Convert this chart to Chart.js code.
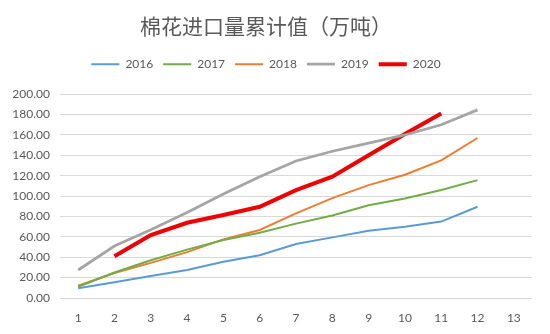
<!DOCTYPE html>
<html>
<head>
<meta charset="utf-8">
<script src="https://cdn.jsdelivr.net/npm/chart.js@4"></script>
<style>
  html, body { margin: 0; padding: 0; background: #fff; }
  #wrap { width: 550px; height: 334px; }
</style>
</head>
<body>
<div id="wrap"><canvas id="myChart" width="550" height="334"></canvas></div>
<script>
// Данные графика
const months = ["1", "2", "3", "4", "5", "6", "7", "8", "9", "10", "11", "12", "13"];
const y2016 = [9.5, 15.4, 21.5, 27.5, 35.6, 42, 53, 59.5, 66, 70, 75, 89.5];
const y2017 = [11, 25, 37, 47.5, 57, 64, 73, 81, 91, 97.7, 106, 115.7];
const y2018 = [12, 24.5, 34.5, 45, 57.5, 66.7, 83, 98, 110.8, 121, 135, 157];
const y2019 = [27.5, 51, 67, 84, 102, 119, 134.5, 144, 152, 160, 170, 184.6];
const y2020 = [null, 41, 61.8, 73.8, 81.4, 89.5, 105.9, 119, 140, 161, 181];

const textColor = "#595959";
const fontFamily = "Lato, 'Noto Sans', 'Noto Sans CJK SC', sans-serif";

function line(label, data, color, width) {
  return {
    label: label,
    data: data,
    borderColor: color,
    backgroundColor: color,
    borderWidth: width,
    pointRadius: 0,
    pointHoverRadius: 0,
    pointStyle: "line",
    tension: 0,
    fill: false,
  };
}

// Добавляем отступ под легендой
const legendGap = {
  id: "legendGap",
  beforeInit(chart) {
    const fit = chart.legend.fit;
    chart.legend.fit = function () {
      fit.bind(chart.legend)();
      this.height += 14;
    };
  },
};

const ctx = document.getElementById("myChart");
new Chart(ctx, {
  type: "line",
  data: {
    labels: months,
    datasets: [
      line("2016", y2016, "#5B9BD5", 2),
      line("2017", y2017, "#70AD47", 2),
      line("2018", y2018, "#ED7D31", 2),
      line("2019", y2019, "#A5A5A5", 2.75),
      line("2020", y2020, "#F00000", 4),
    ],
  },
  options: {
    responsive: false,
    animation: false,
    layout: { padding: { left: 0, right: 18, top: 0, bottom: 0 } },
    plugins: {
      title: {
        display: true,
        text: "棉花进口量累计值（万吨）",
        color: textColor,
        font: { family: "'Noto Sans CJK SC', sans-serif", size: 21, weight: "normal" },
        padding: { top: 13, bottom: 10 },
      },
      legend: {
        display: true,
        labels: {
          usePointStyle: true,
          pointStyleWidth: 28,
          color: textColor,
          font: { family: fontFamily, size: 12 },
          padding: 10,
        },
      },
      tooltip: { enabled: false },
    },
    scales: {
      x: {
        offset: true,
        grid: { display: false },
        border: { display: false },
        ticks: { color: textColor, font: { family: fontFamily, size: 12 }, padding: 5 },
        afterFit: (axis) => { axis.height = 36; },
      },
      y: {
        min: 0,
        max: 200,
        ticks: {
          stepSize: 20,
          color: textColor,
          font: { family: fontFamily, size: 12 },
          padding: 10,
          callback: (v) => v.toFixed(2),
        },
        grid: { color: "#D9D9D9", lineWidth: 1, drawTicks: false },
        border: { display: false },
        afterFit: (axis) => { axis.width = 60; },
      },
    },
  },
  plugins: [legendGap],
});
</script>
</body>
</html>
